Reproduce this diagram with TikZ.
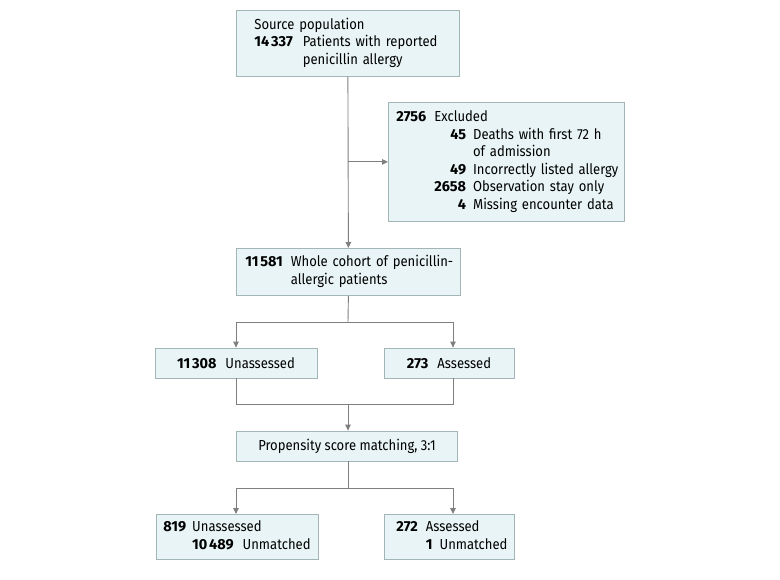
\documentclass[tikz,border=0pt]{standalone}
\usepackage{fontspec}
\setmainfont[FakeStretch=0.9]{Fira Sans}
\newfontfamily\numfam{Fira Sans}
\usetikzlibrary{arrows.meta}
\definecolor{boxfill}{HTML}{E8F4F5}
\definecolor{boxline}{HTML}{A2B5B7}
\definecolor{connc}{HTML}{7F7F7F}
\newcommand{\tsp}{\hspace{0.12em}}
\newcommand{\nb}[1]{{\numfam\bfseries #1}}
\tikzset{
  box/.style={draw=boxline, fill=boxfill, line width=0.8pt, inner ysep=0pt, anchor=north west, align=left},
  cbox/.style={draw=boxline, fill=boxfill, line width=0.8pt, inner sep=0pt, anchor=center, align=center},
  conn/.style={draw=connc, line width=0.9pt},
  arr/.style={conn, -{Triangle[length=6pt,width=5.5pt]}}
}
\begin{document}
\begin{tikzpicture}[x=1pt,y=-1pt,font=\fontsize{14.5}{17.6}\selectfont]
\useasboundingbox[fill=white] (0,0) rectangle (780,580);

\node[box, minimum width=223pt, minimum height=66pt, inner xsep=18pt, text width=187pt] (src) at (236,10)
  {\begin{tabular}{@{}r@{\hspace{10pt}}l@{}}
   \multicolumn{2}{@{}l@{}}{Source population}\\
   \nb{14\tsp337} & Patients with reported\\
    & penicillin allergy
   \end{tabular}};

\node[box, minimum width=236pt, minimum height=119pt, inner xsep=8pt, text width=220pt] (excl) at (388,102)
  {\begin{tabular}{@{}l@{\hspace{8pt}}r@{\hspace{7pt}}l@{}}
   \nb{2756} & \multicolumn{2}{@{}l@{}}{Excluded}\\
    & \nb{45} & Deaths with first 72 h\\
    & & of admission\\
    & \nb{49} & Incorrectly listed allergy\\
    & \nb{2658} & Observation stay only\\
    & \nb{4} & Missing encounter data
   \end{tabular}};

\node[box, minimum width=224pt, minimum height=47pt, inner xsep=9pt, text width=206pt] (coh) at (236,248)
  {\begin{tabular}{@{}r@{\hspace{8pt}}l@{}}
   \nb{11\tsp581} & Whole cohort of penicillin-\\
    & allergic patients
   \end{tabular}};

\node[cbox, minimum width=162pt, minimum height=30pt] (unass) at (236,363)
  {\nb{11\tsp308}\hspace{9pt}Unassessed};
\node[cbox, minimum width=130pt, minimum height=30pt] (ass) at (449,363)
  {\nb{273}\hspace{9pt}Assessed};

\node[cbox, minimum width=221pt, minimum height=30pt] (prop) at (347,446)
  {Propensity score matching, 3:1};

\node[box, minimum width=162pt, minimum height=45pt, inner xsep=7pt, text width=148pt] (unm) at (156,514)
  {\begin{tabular}{@{}l@{\hspace{6pt}}r@{\hspace{9pt}}l@{}}
   \nb{819} & \multicolumn{2}{@{}l@{}}{Unassessed}\\
    & \nb{10\tsp489} & Unmatched
   \end{tabular}};

\node[box, minimum width=130pt, minimum height=45pt, inner xsep=12pt, text width=106pt] (am) at (384,514)
  {\begin{tabular}{@{}l@{\hspace{8pt}}r@{\hspace{7pt}}l@{}}
   \nb{272} & \multicolumn{2}{@{}l@{}}{Assessed}\\
    & \nb{1} & Unmatched
   \end{tabular}};

% connectors
\coordinate (ex) at (src.south |- excl.west);
\draw[arr] (src.south) -- (coh.north);
\draw[arr] (ex) -- (excl.west);

\coordinate (s1) at (348,322);
\coordinate (s1L) at (236,322);
\coordinate (s1R) at (453,322);
\draw[conn] (coh.south) -- (s1);
\draw[conn] (s1L) -- (s1R);
\draw[arr] (s1L) -- (unass.north);
\draw[arr] (s1R) -- (s1R |- ass.north);

\coordinate (s2L) at (236,404);
\coordinate (s2R) at (453,404);
\coordinate (s2) at (348,404);
\draw[conn] (unass.south) -- (s2L) -- (s2R) -- (s2R |- ass.south);
\draw[arr] (s2) -- (s2 |- prop.north);

\coordinate (s3) at (348,488);
\coordinate (s3L) at (236,488);
\coordinate (s3R) at (453,488);
\draw[conn] (s3 |- prop.south) -- (s3);
\draw[conn] (s3L) -- (s3R);
\draw[arr] (s3L) -- (s3L |- unm.north);
\draw[arr] (s3R) -- (s3R |- am.north);
\end{tikzpicture}
\end{document}
